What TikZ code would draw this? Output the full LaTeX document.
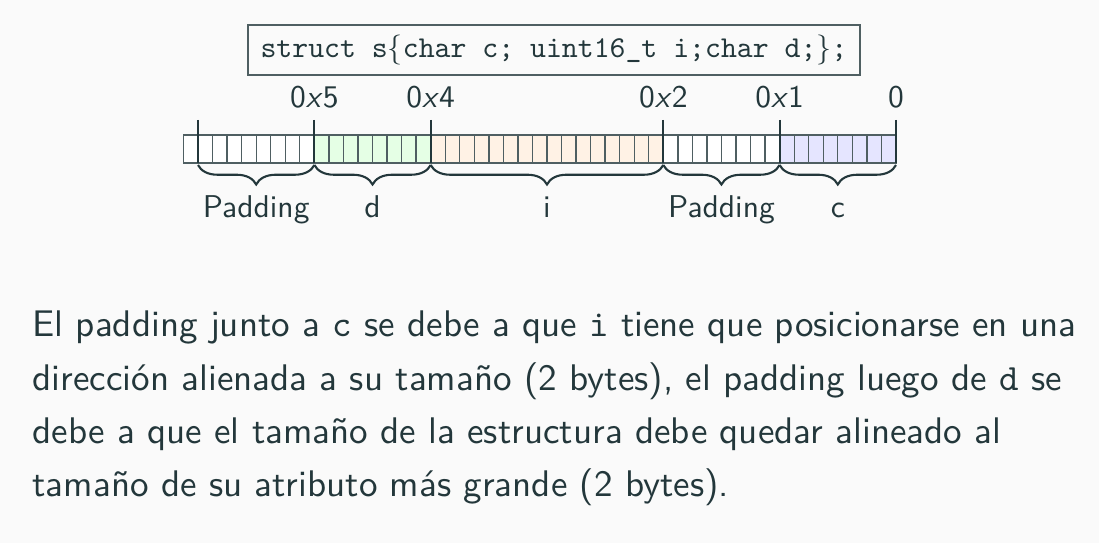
\documentclass[tikz,border=0pt]{standalone}
\usepackage{fontspec}
\setsansfont{lmsans10}[Extension=.otf,UprightFont=*-regular,ItalicFont=*-oblique,SlantedFont=*-oblique,BoldFont=*-bold]
\setmonofont{lmmono10}[Extension=.otf,UprightFont=*-regular]
\usepackage{tikz}
\usetikzlibrary{decorations.pathreplacing}
\definecolor{mDarkTeal}{HTML}{23373B}
\definecolor{bgcol}{HTML}{FAFAFA}
\newcommand{\cw}{14.54}
\newcommand{\hexa}[1]{0\textsl{x}#1}

\begin{document}
\begin{tikzpicture}[x=0.3333pt,y=-0.3333pt,
  lbl/.style={font=\fontsize{10.5}{12}\selectfont\sffamily,text=mDarkTeal,inner sep=0pt,anchor=base},
  cell/.style={draw=mDarkTeal!80,line width=0.45pt},
  tick/.style={draw=mDarkTeal,line width=0.7pt},
  brc/.style={draw=mDarkTeal,line width=0.7pt,decorate,decoration={brace,mirror,amplitude=6.5pt}},
  txt/.style={font=\fontsize{12.35}{15}\selectfont\sffamily,text=mDarkTeal,anchor=base west,inner sep=0pt}]
\useasboundingbox[fill=bgcol] (0,0) rectangle (1099,543);
%declaracion
\node[draw=mDarkTeal!80,line width=0.4pt,minimum width=204pt,minimum height=14.7pt,
  font=\fontsize{10.1}{12}\selectfont\ttfamily,text=mDarkTeal] (def) at (554,50)
  {struct s$\{$char c; uint16\_t i;char d;$\}$;};
%memoria
\fill[white] (183.5,135) rectangle (314.4,163);
\fill[green!10] (314.4,135) rectangle (430.7,163);
\fill[orange!10] (430.7,135) rectangle (663.3,163);
\fill[white] (663.3,135) rectangle (779.6,163);
\fill[blue!10] (779.6,135) rectangle (896,163);
\foreach \k in {0,...,48}
  \draw[cell] (183.5+\k*\cw,135) rectangle ++(\cw,28);
\foreach \n/\px in {a/198,b/314.4,c/430.7,d/663.3,e/779.6,f/896}{
  \coordinate (t\n) at (\px,120);
  \coordinate (m\n) at (\px,163);
  \coordinate (u\n) at (\px,165);
  \draw[tick] (t\n) -- (m\n);
}
%direcciones
\node[lbl] (h5) at (314.4,108) {\hexa{5}};
\node[lbl] (h4) at (430.7,108) {\hexa{4}};
\node[lbl] (h2) at (663.3,108) {\hexa{2}};
\node[lbl] (h1) at (779.6,108) {\hexa{1}};
\node[lbl] (h0) at (896,108) {0};
%campos
\draw[brc] (ua) -- (ub);
\draw[brc] (ub) -- (uc);
\draw[brc] (uc) -- (ud);
\draw[brc] (ud) -- (ue);
\draw[brc] (ue) -- (uf);
\node[lbl] (pad1) at (256.2,218) {Padding};
\node[lbl] (fd) at (372.5,218) {d};
\node[lbl] (fi) at (547,218) {i};
\node[lbl] (pad2) at (721.5,218) {Padding};
\node[lbl] (fc) at (837.8,218) {c};
%explicacion
\node[txt] (l1) at (32,337) {El padding junto a \texttt{c} se debe a que \texttt{i} tiene que posicionarse en una};
\node[txt] (l2) at (32,391) {dirección alienada a su tamaño (2 bytes), el padding luego de \texttt{d} se};
\node[txt] (l3) at (32,444) {debe a que el tamaño de la estructura debe quedar alineado al};
\node[txt] (l4) at (32,497) {tamaño de su atributo más grande (2 bytes).};
\end{tikzpicture}
\end{document}
